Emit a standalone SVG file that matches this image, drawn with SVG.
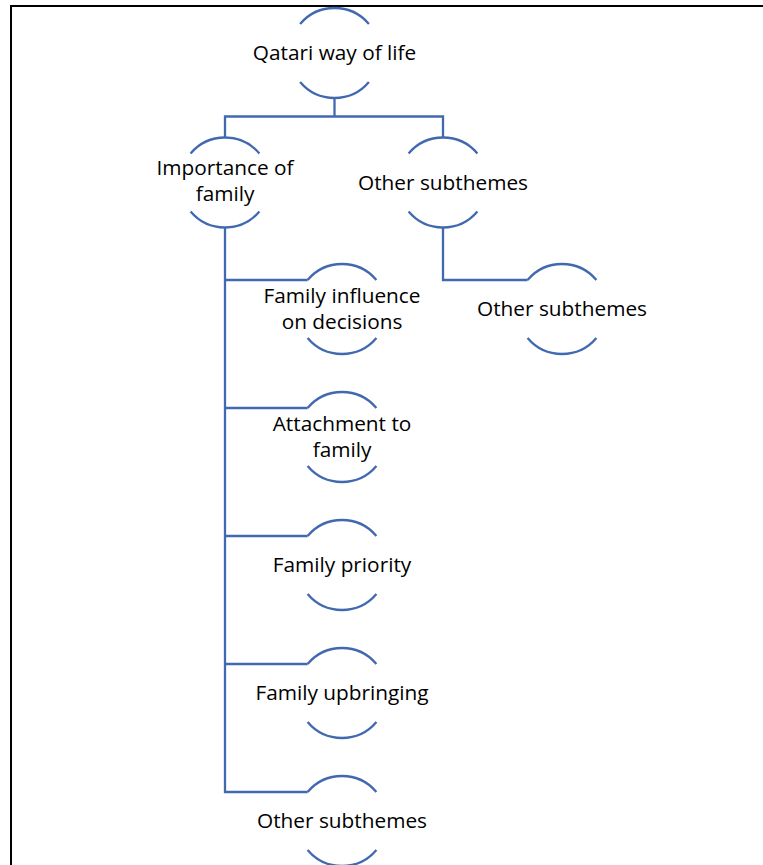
<svg xmlns="http://www.w3.org/2000/svg" width="763" height="865" viewBox="0 0 763 865">
  <style>
    .arc { fill: none; stroke: #4169B0; stroke-width: 2.3; }
    .wire { fill: none; stroke: #4169B0; stroke-width: 2.3; stroke-linejoin: miter; }
    .frame { fill: none; stroke: #000000; stroke-width: 2; }
    text { font-family: "Open Sans", "Liberation Sans", sans-serif; font-size: 20.8px; fill: #000000; text-anchor: middle; }
  </style>
  <defs>
    <!-- open circle: only the top and bottom caps are drawn, radius 45 -->
    <g id="caps">
      <path class="arc" d="M -34.4 -29 A 45 45 0 0 1 34.4 -29"/>
      <path class="arc" d="M -34.4 29 A 45 45 0 0 0 34.4 29"/>
    </g>
  </defs>
  <rect width="763" height="865" fill="#ffffff"/>
  <!-- page frame (top and left edges) -->
  <path class="frame" d="M 11 865 L 11 6 L 763 6"/>

  <g id="connectors">
    <path class="wire" d="M 334.5 98 L 334.5 116.5"/>
    <path class="wire" d="M 225 137.5 L 225 116.5 L 443 116.5 L 443 137.5"/>
    <path class="wire" d="M 443 227.5 L 443 280 L 527.6 280"/>
    <path class="wire" d="M 225 227.5 L 225 792 L 307.6 792"/>
    <path class="wire" d="M 225 280 L 307.6 280"/>
    <path class="wire" d="M 225 408 L 307.6 408"/>
    <path class="wire" d="M 225 536 L 307.6 536"/>
    <path class="wire" d="M 225 664 L 307.6 664"/>
  </g>

  <g id="node-qatari-way-of-life" transform="translate(334.5 53)">
    <use href="#caps"/>
    <text x="0" y="6.5">Qatari way of life</text>
  </g>
  <g id="node-importance-of-family" transform="translate(225 182.5)">
    <use href="#caps"/>
    <text x="0" y="-8">Importance of</text>
    <text x="0" y="18">family</text>
  </g>
  <g id="node-other-subthemes-1" transform="translate(443 182.5)">
    <use href="#caps"/>
    <text x="0" y="7">Other subthemes</text>
  </g>
  <g id="node-other-subthemes-2" transform="translate(562 309)">
    <use href="#caps"/>
    <text x="0" y="7">Other subthemes</text>
  </g>
  <g id="node-family-influence" transform="translate(342 309)">
    <use href="#caps"/>
    <text x="0" y="-6">Family influence</text>
    <text x="0" y="20">on decisions</text>
  </g>
  <g id="node-attachment-to-family" transform="translate(342 437)">
    <use href="#caps"/>
    <text x="0" y="-6">Attachment to</text>
    <text x="0" y="20">family</text>
  </g>
  <g id="node-family-priority" transform="translate(342 565)">
    <use href="#caps"/>
    <text x="0" y="7">Family priority</text>
  </g>
  <g id="node-family-upbringing" transform="translate(342 693)">
    <use href="#caps"/>
    <text x="0" y="7">Family upbringing</text>
  </g>
  <g id="node-other-subthemes-3" transform="translate(342 821)">
    <use href="#caps"/>
    <text x="0" y="7">Other subthemes</text>
  </g>
</svg>
